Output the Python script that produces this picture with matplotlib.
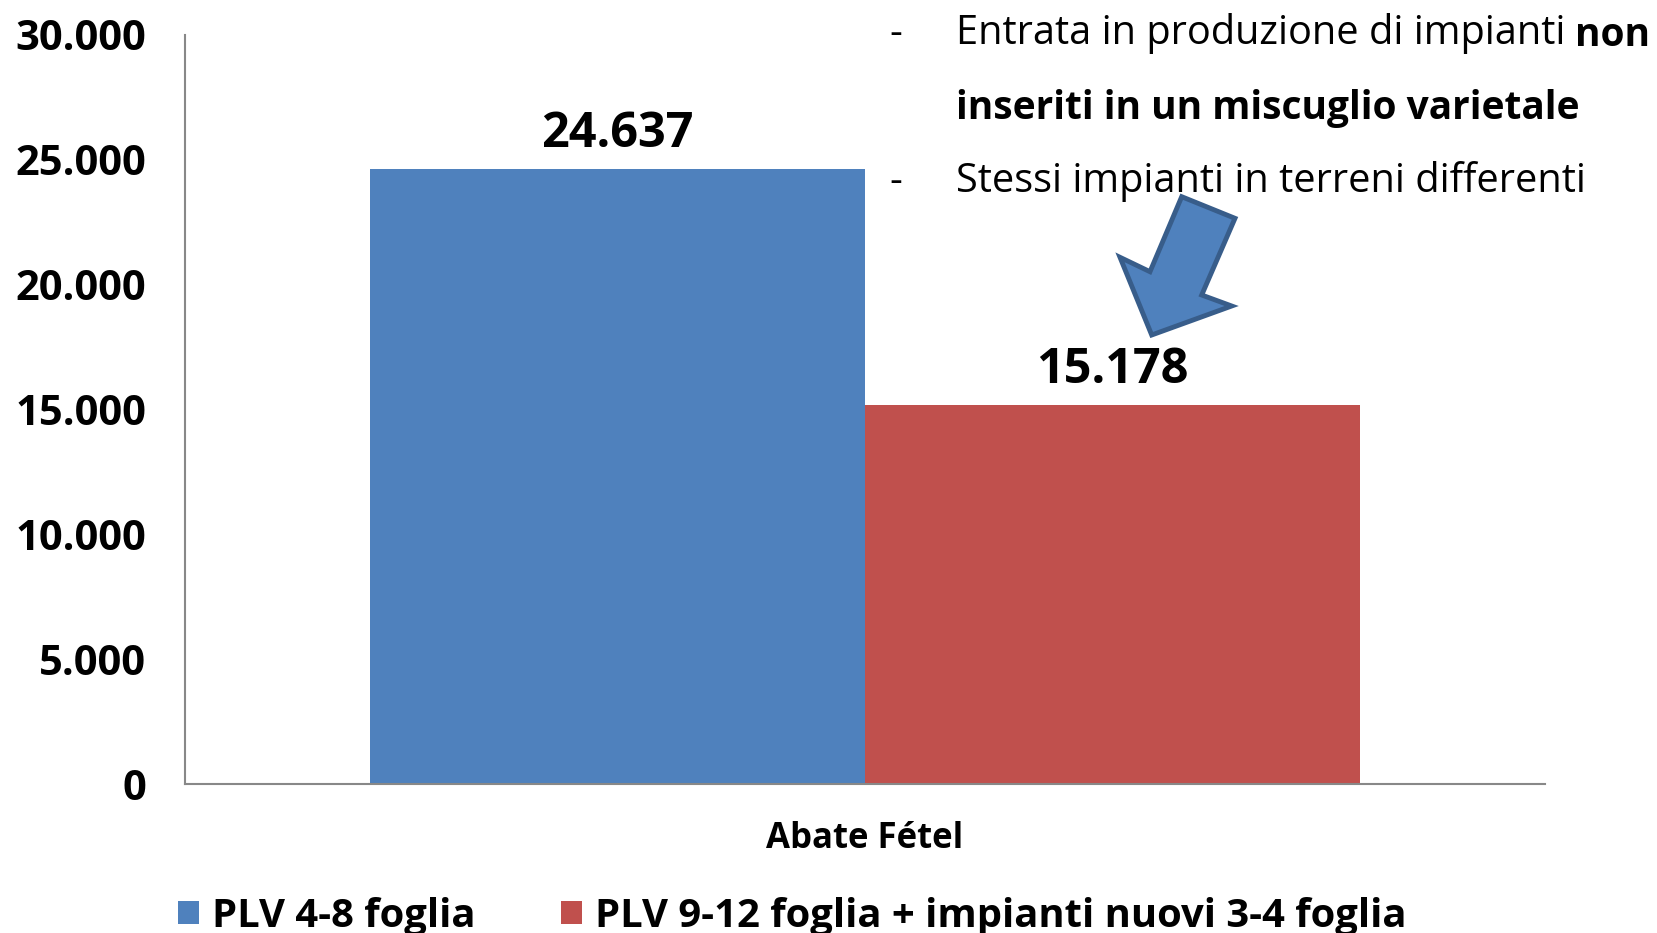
import matplotlib
matplotlib.use("Agg")
import matplotlib.pyplot as plt
from matplotlib.patches import Polygon
from matplotlib.ticker import FuncFormatter

# ---- data ----
category = "Abate Fétel"
series_names = ["PLV 4-8 foglia", "PLV 9-12 foglia + impianti nuovi 3-4 foglia"]
series_values = [24637, 15178]
series_colors = ["#4F81BD", "#C0504D"]
y_ticks = [0, 5000, 10000, 15000, 20000, 25000, 30000]
note_line1 = "Entrata in produzione di impianti"
note_line1_bold = "non"
note_line2 = "inseriti in un miscuglio varietale"
note_line3 = "Stessi impianti in terreni differenti"

W, H = 1657, 933
fig = plt.figure(figsize=(W / 100, H / 100), dpi=100)
plt.rcParams['font.family'] = ['Open Sans', 'DejaVu Sans']

ax = fig.add_axes([185 / W, 1 - 784 / H, (1545 - 185) / W, (784 - 35) / H])

bar_w = 0.364
for i, (name, val, col) in enumerate(zip(series_names, series_values, series_colors)):
    x = (i - 0.5) * bar_w
    ax.bar(x, val, width=bar_w, color=col, label=name, zorder=2)
    ax.annotate(f"{val:,}".replace(",", "."), xy=(x, val), xytext=(0, 16),
                textcoords="offset points", ha="center", va="baseline",
                fontsize=35, fontweight="bold", color="black")

ax.set_xlim(-0.5, 0.5)
ax.set_ylim(0, 30000)
ax.set_yticks(y_ticks)
ax.yaxis.set_major_formatter(FuncFormatter(lambda v, p: f"{int(v):,}".replace(",", ".")))
ax.set_xticks([0])
ax.set_xticklabels([category])
ax.tick_params(axis="y", length=0, pad=28, labelsize=30)
ax.tick_params(axis="x", length=0, pad=27, labelsize=25)
for lab in ax.get_yticklabels() + ax.get_xticklabels():
    lab.set_fontweight("bold")

for s in ["top", "right"]:
    ax.spines[s].set_visible(False)
for s in ["left", "bottom"]:
    ax.spines[s].set_color("#888888")
    ax.spines[s].set_linewidth(1.5)

# legend
handles, labels = ax.get_legend_handles_labels()
fig.legend(handles, labels, loc="center left", bbox_to_anchor=(178 / W, 1 - 916 / H),
           ncol=2, frameon=False, prop={"family": "Open Sans", "weight": "bold", "size": 28.8},
           handlelength=0.52, handleheight=0.52, handletextpad=0.32, columnspacing=2.15,
           borderpad=0, borderaxespad=0)

# annotation text
fs = 28.6
fsb = 28
t1 = fig.text(956 / W, 1 - 34 / H, note_line1, fontsize=fs, va="center", ha="left")
fig.canvas.draw()
ax.annotate(note_line1_bold, xy=(1, 0), xycoords=t1, xytext=(7.0, 0),
            textcoords="offset points", fontsize=fsb, fontweight="bold", va="bottom", ha="left",
            annotation_clip=False)
fig.text(956 / W, 1 - 108 / H, note_line2, fontsize=fsb, va="center", ha="left", fontweight="bold")
fig.text(956 / W, 1 - 182 / H, note_line3, fontsize=fs, va="center", ha="left")
for yy in (34, 182):
    fig.text(896 / W, 1 - yy / H, "-", fontsize=fs, va="center", ha="center")

# block arrow (decoration)
arrow_px = [(1181.7, 196.7), (1235, 218.3), (1201.7, 295), (1231.7, 306),
            (1151.7, 335), (1120, 257.3), (1150, 271.7)]
poly = Polygon([(x / W, 1 - y / H) for x, y in arrow_px], closed=True,
               transform=fig.transFigure, facecolor="#4F81BD", edgecolor="#385D8A",
               linewidth=3.5, joinstyle="miter", zorder=5)
fig.patches.append(poly)

fig.savefig("out.png", dpi=100)
